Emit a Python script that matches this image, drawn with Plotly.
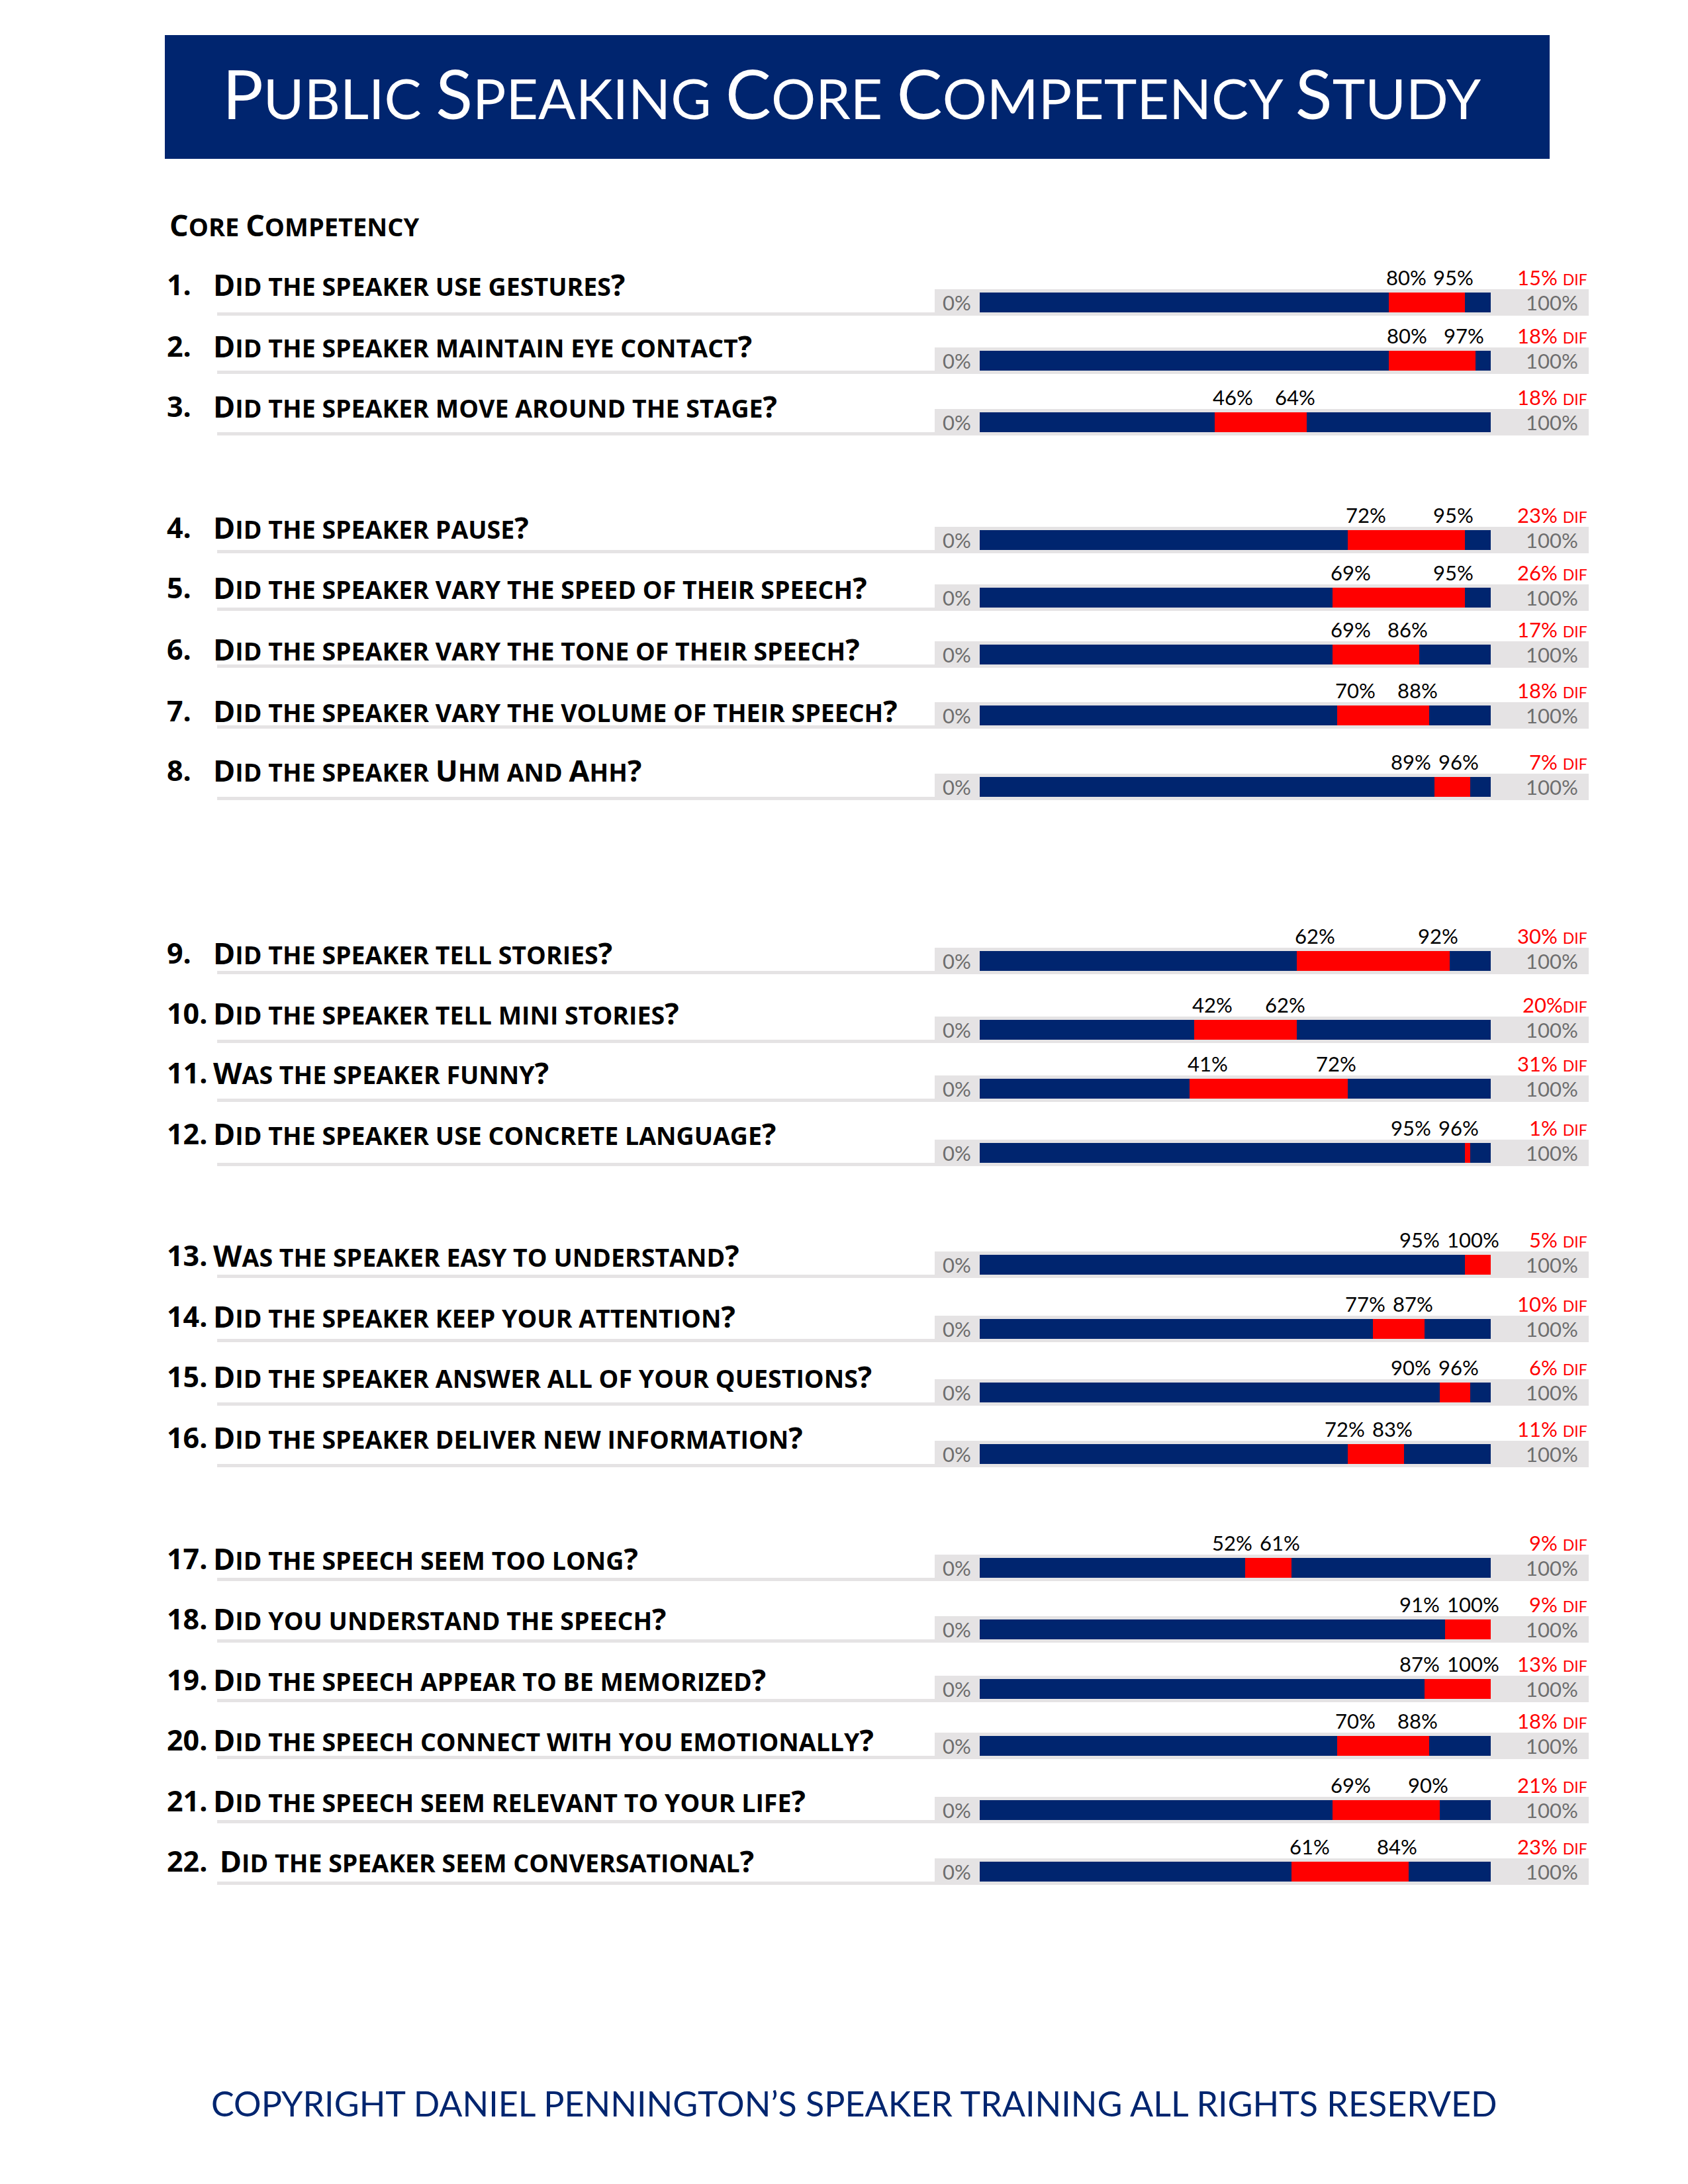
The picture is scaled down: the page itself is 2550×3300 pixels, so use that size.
import plotly.graph_objects as go

# ---------------- data ----------------
NUMBERS = [f"{i}." for i in range(1, 23)]
QUESTIONS = [
    "Did the speaker use gestures?",
    "Did the speaker maintain eye contact?",
    "Did the speaker move around the stage?",
    "Did the speaker pause?",
    "Did the speaker vary the speed of their speech?",
    "Did the speaker vary the tone of their speech?",
    "Did the speaker vary the volume of their speech?",
    "Did the speaker Uhm and Ahh?",
    "Did the speaker tell stories?",
    "Did the speaker tell mini stories?",
    "Was the speaker funny?",
    "Did the speaker use concrete language?",
    "Was the speaker easy to understand?",
    "Did the speaker keep your attention?",
    "Did the speaker answer all of your questions?",
    "Did the speaker deliver new information?",
    "Did the speech seem too long?",
    "Did you understand the speech?",
    "Did the speech appear to be memorized?",
    "Did the speech connect with you emotionally?",
    "Did the speech seem relevant to your life?",
    " Did the speaker seem conversational?",
]
LOW = [80, 80, 46, 72, 69, 69, 70, 89, 62, 42, 41, 95, 95, 77, 90, 72, 52, 91, 87, 70, 69, 61]
HIGH = [95, 97, 64, 95, 95, 86, 88, 96, 92, 62, 72, 96, 100, 87, 96, 83, 61, 100, 100, 88, 90, 84]
DIF = [15, 18, 18, 23, 26, 17, 18, 7, 30, 20, 31, 1, 5, 10, 6, 11, 9, 9, 13, 18, 21, 23]
DIF_SEP = [" "] * 9 + [""] + [" "] * 12
TITLE = "Public Speaking Core Competency Study"
SUBTITLE = "Core Competency"
FOOTER = "COPYRIGHT DANIEL PENNINGTON\u2019S SPEAKER TRAINING ALL RIGHTS RESERVED"

# ---------------- layout (pixel positions on the 2550x3300 page) ----------------
W, H = 2550, 3300
ROW_Y = [457, 545, 638, 816, 903, 989, 1081, 1189, 1452, 1556, 1645, 1742,
         1911, 2008, 2104, 2197, 2369, 2462, 2552, 2638, 2735, 2828]
TEXT_Y = [429, 522, 614, 797, 888, 980, 1073, 1163, 1439, 1530, 1620, 1713,
          1896, 1988, 2079, 2171, 2354, 2445, 2537, 2628, 2720, 2811]
BAR_X0, BAR_X1 = 1480, 2252          # pixel of 0% and 100%
PXU = (BAR_X1 - BAR_X0) / 100.0
BOX_X0, BOX_X1 = 1412, 2400
LINE_X0 = 328

NAVY = "#00256f"
RED = "#ff0000"
GREY_BOX = "#e5e3e4"
GREY_TXT = "#6e6e6e"
FONT = "Lato"
QFONT = "Open Sans"
LBL = 31


def px_to_x(px):
    return (px - BAR_X0) / PXU


def xp(px):
    return px / W


def yp(py):
    return 1 - py / H


def smallcaps(s, small):
    out, run, low = [], "", None
    for ch in s:
        is_low = ch.islower() or (ch == " ")
        if low is None:
            low = is_low
        if is_low != low:
            out.append((run, low))
            run = ""
            low = is_low
        run += ch
    if run:
        out.append((run, low))
    html = ""
    for txt, lo in out:
        if lo:
            html += f'<span style="font-size:{small}px">{txt.upper()}</span>'
        else:
            html += txt
    return html


def lblw(t, fs=LBL):
    return sum(0.58 * fs if c.isdigit() else 0.82 * fs for c in t)


fig = go.Figure()

# full navy bars (0-100%)
fig.add_trace(go.Bar(orientation="h", y=ROW_Y, x=[100] * len(ROW_Y), base=[0] * len(ROW_Y),
                     width=30, marker=dict(color=NAVY, line=dict(width=0)),
                     hoverinfo="skip", showlegend=False))
# red difference segments
fig.add_trace(go.Bar(orientation="h", y=ROW_Y, x=[h - l for l, h in zip(LOW, HIGH)], base=LOW,
                     width=30, marker=dict(color=RED, line=dict(width=0)),
                     hoverinfo="skip", showlegend=False))

shapes = []
annotations = []

# banner
shapes.append(dict(type="rect", xref="paper", yref="paper", x0=xp(249), x1=xp(2341),
                   y0=yp(240), y1=yp(53), fillcolor=NAVY, line=dict(width=0), layer="below"))
annotations.append(dict(xref="paper", yref="paper", x=xp(1287), y=yp(140), xanchor="center",
                        yanchor="middle", showarrow=False,
                        text=smallcaps(TITLE, 84),
                        font=dict(family=FONT, size=103, color="white")))
annotations.append(dict(xref="paper", yref="paper", x=xp(254), y=yp(339), xanchor="left",
                        yanchor="middle", showarrow=False,
                        text=smallcaps(SUBTITLE, 38),
                        font=dict(family=QFONT, size=45, color="black", weight=700)))

for i, (yb, yt) in enumerate(zip(ROW_Y, TEXT_Y)):
    # grey box and underline
    shapes.append(dict(type="rect", xref="paper", yref="paper", x0=xp(BOX_X0), x1=xp(BOX_X1),
                       y0=yp(yb + 20), y1=yp(yb - 20), fillcolor=GREY_BOX,
                       line=dict(width=0), layer="below"))
    shapes.append(dict(type="rect", xref="paper", yref="paper", x0=xp(LINE_X0), x1=xp(BOX_X0),
                       y0=yp(yb + 20), y1=yp(yb + 15), fillcolor=GREY_BOX,
                       line=dict(width=0), layer="below"))
    # number + question
    annotations.append(dict(xref="paper", yref="paper", x=xp(250), y=yp(yt), xanchor="left",
                            yanchor="middle", showarrow=False, text=NUMBERS[i],
                            font=dict(family=QFONT, size=43, color="black", weight=700)))
    annotations.append(dict(xref="paper", yref="paper", x=xp(320), y=yp(yt), xanchor="left",
                            yanchor="middle", showarrow=False, text=smallcaps(QUESTIONS[i], 37.5),
                            font=dict(family=QFONT, size=45, color="black", weight=700)))
    # 0% / 100%
    annotations.append(dict(xref="paper", yref="paper", x=xp(1445), y=yp(yb), xanchor="center",
                            yanchor="middle", showarrow=False, text="0%",
                            font=dict(family=FONT, size=LBL, color=GREY_TXT)))
    annotations.append(dict(xref="paper", yref="paper", x=xp(2386), y=yp(yb), xanchor="right",
                            yanchor="middle", showarrow=False, text="100%",
                            font=dict(family=FONT, size=LBL, color=GREY_TXT)))
    # low / high value labels
    lo_t, hi_t = f"{LOW[i]}%", f"{HIGH[i]}%"
    px_lo = BAR_X0 + LOW[i] * PXU
    px_hi = BAR_X0 + HIGH[i] * PXU
    hi_right = px_hi + 15
    hi_left = hi_right - lblw(hi_t)
    lo_left = min(px_lo - 5, hi_left - 14 - lblw(lo_t))
    ly = yb - 38
    annotations.append(dict(xref="paper", yref="paper", x=xp(lo_left), y=yp(ly), xanchor="left",
                            yanchor="middle", showarrow=False, text=lo_t,
                            font=dict(family=FONT, size=LBL, color="black")))
    annotations.append(dict(xref="paper", yref="paper", x=xp(hi_right), y=yp(ly), xanchor="right",
                            yanchor="middle", showarrow=False, text=hi_t,
                            font=dict(family=FONT, size=LBL, color="black")))
    annotations.append(dict(xref="paper", yref="paper", x=xp(2400), y=yp(ly), xanchor="right",
                            yanchor="middle", showarrow=False,
                            text=f'{DIF[i]}%{DIF_SEP[i]}<span style="font-size:23px">DIF</span>',
                            font=dict(family=FONT, size=LBL, color=RED)))

annotations.append(dict(xref="paper", yref="paper", x=xp(1290), y=yp(3178), xanchor="center",
                        yanchor="middle", showarrow=False, text=FOOTER,
                        font=dict(family=FONT, size=52, color=NAVY)))

fig.update_layout(
    width=W, height=H, margin=dict(l=0, r=0, t=0, b=0),
    paper_bgcolor="white", plot_bgcolor="white",
    barmode="overlay", bargap=0,
    xaxis=dict(range=[px_to_x(0), px_to_x(W)], domain=[0, 1], visible=False, fixedrange=True),
    yaxis=dict(range=[H, 0], domain=[0, 1], visible=False, fixedrange=True),
    shapes=shapes, annotations=annotations,
    hovermode=False, showlegend=False,
)

fig.write_html("out.html", config={"displayModeBar": False},
               post_script="document.body.style.margin='0';")
